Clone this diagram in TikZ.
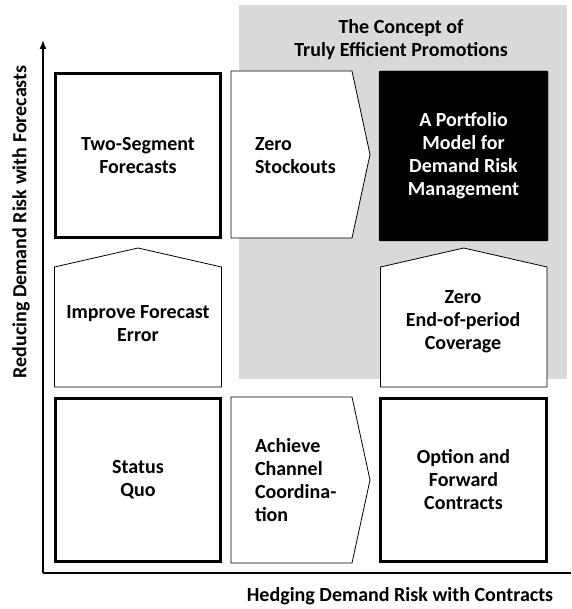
\documentclass[tikz,border=0pt]{standalone}
\usepackage{fontspec}
\setmainfont{Carlito}
\usetikzlibrary{arrows.meta}

\definecolor{lightshade}{HTML}{D9D9D9}

\tikzset{
  lbl/.style={font=\fontsize{20}{23}\selectfont\bfseries, align=center},
  bigbox/.style={draw, line width=3pt, minimum width=165pt, minimum height=164pt},
  thinshape/.style={draw, fill=white, line width=0.8pt},
}

\begin{document}
\begin{tikzpicture}[x=1pt, y=-1pt]

            \useasboundingbox (0,0) rectangle (571,609);

            % shaded area
            \fill[lightshade] (239,5) rectangle (567,379);
            \node[lbl] (concept) at (401,40) {The Concept of\\Truly Efficient Promotions};

            % axes
            \coordinate (origin) at (43,573);
            \coordinate (ytop) at (43,40);
            \coordinate (xend) at (571,573);
            \draw[-{Latex[length=9pt,width=7pt]}, line width=1.4pt] (origin) -- (ytop);
            \draw[line width=1.4pt] (origin) -- (xend);
            \node[lbl] (xlab) at (400,596) {Hedging Demand Risk with Contracts};
            \node[lbl, rotate=90] (ylab) at (21,222) {Reducing Demand Risk with Forecasts};

            % corner boxes
            \node[bigbox, lbl] (twoseg) at (138,156) {Two-Segment\\Forecasts};
            \node[bigbox, lbl, minimum height=163pt] (status) at (138,480) {Status\\Quo};
            \node[bigbox, lbl, minimum width=166pt, minimum height=163pt] (option) at (463.5,480) {Option and\\Forward\\Contracts};
            \node[draw, fill=black, text=white, lbl, rounded corners=1pt,
                  minimum width=169pt, minimum height=170pt] (portfolio) at (463.5,156) {A Portfolio\\Model for\\Demand Risk\\Management};

            % arrows to the right
            \foreach \yt/\yb in {71/238, 397/563}
                \draw[thinshape] (231,\yt) -- (352,\yt) -- (370,{(\yt+\yb)/2}) -- (352,\yb) -- (231,\yb) -- cycle;
            \node[lbl, align=left, anchor=west] (stockouts) at (251.5,156) {Zero\\Stockouts};
            \node[lbl, align=left, anchor=west] (coord) at (251.5,480) {Achieve\\Channel\\Coordina-\\tion};

            % arrows upwards
            \foreach \xl/\xr in {54.5/221.5, 380.5/547}
                \draw[thinshape] (\xl,387) -- (\xl,267) -- ({(\xl+\xr)/2},248) -- (\xr,267) -- (\xr,387) -- cycle;
            \node[lbl] (improve) at (138,324) {Improve Forecast\\Error};
            \node[lbl] (endperiod) at (463,322) {Zero\\End-of-period\\Coverage};

\end{tikzpicture}
\end{document}
